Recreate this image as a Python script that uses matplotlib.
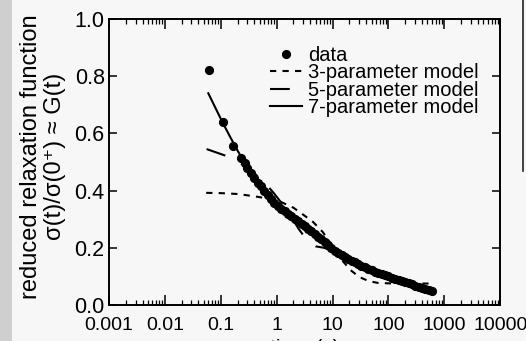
import matplotlib
matplotlib.use("Agg")
import matplotlib.pyplot as plt
from matplotlib.lines import Line2D
from matplotlib.patches import Rectangle
from matplotlib.ticker import LogLocator, FixedLocator, FixedFormatter, NullFormatter

plt.rcParams['font.family'] = ['Liberation Sans', 'DejaVu Sans']

# measured relaxation data: time (s) and reduced stress
data_t = [0.062, 0.11, 0.165, 0.23, 0.27,
          0.30, 0.35, 0.40, 0.46, 0.52, 0.60, 0.69, 0.79, 0.91, 1.05,
          1.2, 1.4, 1.6, 1.8, 2.1, 2.4, 2.8, 3.2, 3.6, 4.2,
          4.8, 5.5, 6.3, 7.2, 8.3, 9.5, 11, 12.5, 14.5, 16.5,
          19, 22, 25, 29, 33, 38, 44, 50, 58, 66,
          76, 87, 100, 115, 132, 152, 174, 200, 230, 265,
          300, 350, 400, 460, 530, 600]
data_g = [0.820, 0.640, 0.555, 0.515, 0.495,
          0.480, 0.462, 0.445, 0.428, 0.415, 0.400, 0.386, 0.372, 0.358, 0.346,
          0.337, 0.327, 0.318, 0.311, 0.301, 0.292, 0.283, 0.275, 0.267, 0.258,
          0.249, 0.239, 0.229, 0.219, 0.208, 0.199, 0.190, 0.183, 0.175, 0.168,
          0.162, 0.155, 0.149, 0.143, 0.137, 0.132, 0.126, 0.121, 0.116, 0.112,
          0.108, 0.104, 0.100, 0.096, 0.092, 0.088, 0.084, 0.080, 0.076, 0.072,
          0.068, 0.064, 0.060, 0.056, 0.052, 0.048]

# model curves
m3_t = [0.055, 0.1, 0.2, 0.4, 0.7, 1.2, 2.0, 2.7, 4.5, 6.7, 10, 15, 21, 30,
        45, 66, 130, 250, 600]
m3_g = [0.392, 0.391, 0.388, 0.380, 0.372, 0.360, 0.340, 0.322, 0.290, 0.255,
        0.205, 0.155, 0.122, 0.098, 0.083, 0.077, 0.075, 0.075, 0.075]

m5_t = [0.056, 0.13, 0.25, 0.4, 0.6, 0.9, 1.3, 1.8, 2.5, 3.7, 5, 7, 10, 20,
        40, 80, 150, 300, 600]
m5_g = [0.545, 0.520, 0.490, 0.460, 0.430, 0.390, 0.350, 0.310, 0.265, 0.220,
        0.205, 0.200, 0.190, 0.165, 0.135, 0.110, 0.090, 0.070, 0.055]

m7_t = [0.06, 0.08, 0.11, 0.15, 0.2, 0.3, 0.45, 0.7, 1.0, 1.5, 2.5, 4, 6, 10,
        15, 25, 40, 70, 120, 200, 350, 600]
m7_g = [0.740, 0.690, 0.635, 0.585, 0.540, 0.480, 0.430, 0.385, 0.350, 0.320,
        0.290, 0.262, 0.232, 0.195, 0.172, 0.149, 0.132, 0.113, 0.095, 0.080,
        0.064, 0.049]

x_ticks = [0.001, 0.01, 0.1, 1, 10, 100, 1000, 10000]
x_tick_labels = ["0.001", "0.01", "0.1", "1", "10", "100", "1000", "10000"]
y_ticks = [0.0, 0.2, 0.4, 0.6, 0.8, 1.0]
y_tick_labels = ["0.0", "0.2", "0.4", "0.6", "0.8", "1.0"]

bg = "#f7f7f7"
fig = plt.figure(figsize=(5.26, 3.41), dpi=100, facecolor=bg)
ax = fig.add_axes([0.207, 0.1056, 0.744, 0.839], facecolor=bg)

lw = 1.5
ax.plot(m3_t, m3_g, color="black", lw=lw, linestyle=(0, (3, 3)),
        label="3-parameter model")
ax.plot(m5_t, m5_g, color="black", lw=lw, linestyle=(0, (9.5, 8.5)),
        label="5-parameter model")
ax.plot(m7_t, m7_g, color="black", lw=lw, linestyle="-",
        label="7-parameter model")
ax.plot(data_t, data_g, linestyle="none", marker="o", ms=5.6,
        color="black", label="data")

ax.set_xscale("log")
ax.set_xlim(1e-3, 1e4)
ax.set_ylim(0, 1.0)

ax.xaxis.set_major_locator(FixedLocator(x_ticks))
ax.xaxis.set_major_formatter(FixedFormatter(x_tick_labels))
ax.xaxis.set_minor_locator(LogLocator(base=10, subs=range(2, 10), numticks=20))
ax.xaxis.set_minor_formatter(NullFormatter())
ax.yaxis.set_major_locator(FixedLocator(y_ticks))
ax.yaxis.set_major_formatter(FixedFormatter(y_tick_labels))

ax.tick_params(axis="x", which="major", direction="in", length=7, width=1.1,
               top=True, labelsize=14, pad=9)
ax.tick_params(axis="x", which="minor", direction="in", length=3.5, width=0.9,
               top=True)
ax.tick_params(axis="y", which="major", direction="in", length=6, width=1.1,
               right=True, labelsize=15.5, pad=3)
for s in ax.spines.values():
    s.set_linewidth(1.4)

ax.set_ylabel("reduced relaxation function\nσ(t)/σ(0⁺) ≈ G(t)",
              fontsize=17, linespacing=1.12)
ax.yaxis.set_label_coords(-0.11, 0.52)
ax.set_xlabel("time (s)", fontsize=15, labelpad=3)

handles = [
    Line2D([], [], linestyle="none", marker="o", ms=5.6, color="black"),
    Line2D([], [], color="black", lw=lw, linestyle=(0, (3, 3))),
    Line2D([], [], color="black", lw=lw, linestyle=(0, (9.5, 8.5))),
    Line2D([], [], color="black", lw=lw),
]
labels = ["data", "3-parameter model", "5-parameter model", "7-parameter model"]
ax.legend(handles, labels, loc="upper right", bbox_to_anchor=(0.945, 0.905),
          frameon=False, fontsize=14.5, handlelength=1.6, handletextpad=0.3,
          labelspacing=-0.08, borderpad=0, borderaxespad=0)

# page edge shading and binding line of the printed sheet
fig.add_artist(Rectangle((0, 0), 12 / 526, 1, transform=fig.transFigure,
                         facecolor="#cfcfcf", edgecolor="none"))
fig.add_artist(Line2D([523 / 526, 523 / 526], [1, 0.5], transform=fig.transFigure,
                      color="#222222", lw=1.2))

fig.savefig("out.png", dpi=100, facecolor=bg)
